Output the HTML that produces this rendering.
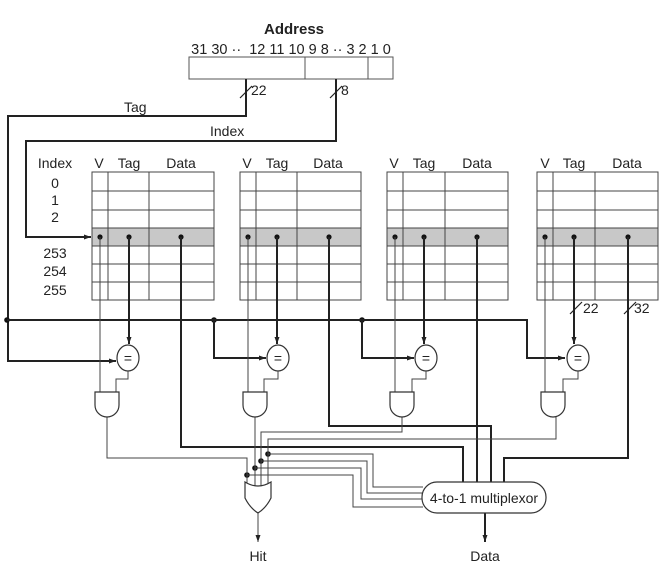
<!DOCTYPE html>
<html><head><meta charset="utf-8"><style>
html,body{margin:0;padding:0;background:#fff}
svg{display:block}
text{font-family:"Liberation Sans",sans-serif;font-size:14px;fill:#222}
</style></head><body>
<svg width="668" height="570" viewBox="0 0 668 570" xmlns="http://www.w3.org/2000/svg">
<defs>
<marker id="ar" markerWidth="8" markerHeight="8" refX="7" refY="4" orient="auto" markerUnits="userSpaceOnUse"><path d="M0,1.5 L7,4 L0,6.5 z" fill="#222"/></marker>
</defs>
<text x="294" y="34" text-anchor="middle" font-weight="bold" style="font-size:15px">Address</text>
<text x="291" y="54" text-anchor="middle" style="font-size:14.5px">31 30 ·· &#160;12 11 10 9 8 ·· 3 2 1 0</text>
<rect x="189" y="57" width="204" height="22" fill="#fff" stroke="#555"/>
<line x1="305" y1="57" x2="305" y2="79" stroke="#555"/>
<line x1="368" y1="57" x2="368" y2="79" stroke="#555"/>
<g stroke="#222" stroke-width="2" fill="none">
<polyline points="246,79 246,116 8,116 8,361 116,361" marker-end="url(#ar)"/>
<polyline points="336,79 336,141 26,141 26,237 91,237" marker-end="url(#ar)"/>
</g>
<g stroke="#222" stroke-width="1.2"><line x1="240" y1="98" x2="252" y2="86"/><line x1="330" y1="98" x2="342" y2="86"/>
<line x1="570" y1="314" x2="582" y2="302"/><line x1="624" y1="314" x2="636" y2="302"/></g>
<text x="251" y="95">22</text><text x="341" y="95">8</text>
<text x="124" y="112">Tag</text><text x="210" y="136">Index</text>
<text x="583" y="313">22</text><text x="634" y="313">32</text>
<text x="55" y="168" text-anchor="middle">Index</text>
<text x="55" y="188" text-anchor="middle">0</text>
<text x="55" y="205" text-anchor="middle">1</text>
<text x="55" y="222" text-anchor="middle">2</text>
<text x="55" y="258" text-anchor="middle">253</text>
<text x="55" y="276" text-anchor="middle">254</text>
<text x="55" y="295" text-anchor="middle">255</text>
<g>
<rect x="92" y="228" width="122" height="18" fill="#c8c8c8"/>
<rect x="240" y="228" width="121" height="18" fill="#c8c8c8"/>
<rect x="387" y="228" width="121" height="18" fill="#c8c8c8"/>
<rect x="537" y="228" width="121" height="18" fill="#c8c8c8"/>
</g>
<g stroke="#444" stroke-width="1" fill="none">
<rect x="92" y="172" width="122" height="128"/><line x1="108" y1="172" x2="108" y2="300"/><line x1="149" y1="172" x2="149" y2="300"/>
<rect x="240" y="172" width="121" height="128"/><line x1="256" y1="172" x2="256" y2="300"/><line x1="297" y1="172" x2="297" y2="300"/>
<rect x="387" y="172" width="121" height="128"/><line x1="403" y1="172" x2="403" y2="300"/><line x1="445" y1="172" x2="445" y2="300"/>
<rect x="537" y="172" width="121" height="128"/><line x1="553" y1="172" x2="553" y2="300"/><line x1="595" y1="172" x2="595" y2="300"/>
<path d="M92,191H214M92,210H214M92,228H214M92,246H214M92,264H214M92,282H214"/>
<path d="M240,191H361M240,210H361M240,228H361M240,246H361M240,264H361M240,282H361"/>
<path d="M387,191H508M387,210H508M387,228H508M387,246H508M387,264H508M387,282H508"/>
<path d="M537,191H658M537,210H658M537,228H658M537,246H658M537,264H658M537,282H658"/>
</g>
<g text-anchor="middle">
<text x="99" y="168">V</text><text x="129" y="168">Tag</text><text x="181" y="168">Data</text>
<text x="247" y="168">V</text><text x="277" y="168">Tag</text><text x="328" y="168">Data</text>
<text x="394" y="168">V</text><text x="424" y="168">Tag</text><text x="477" y="168">Data</text>
<text x="545" y="168">V</text><text x="574" y="168">Tag</text><text x="627" y="168">Data</text>
</g>
<g fill="#111">
<circle cx="100" cy="237" r="2.6"/><circle cx="129" cy="237" r="2.6"/><circle cx="181" cy="237" r="2.6"/>
<circle cx="248" cy="237" r="2.6"/><circle cx="277" cy="237" r="2.6"/><circle cx="329" cy="237" r="2.6"/>
<circle cx="395" cy="237" r="2.6"/><circle cx="424" cy="237" r="2.6"/><circle cx="477" cy="237" r="2.6"/>
<circle cx="545" cy="237" r="2.6"/><circle cx="574" cy="237" r="2.6"/><circle cx="628" cy="237" r="2.6"/>
<circle cx="7" cy="320" r="2.8"/><circle cx="214" cy="320" r="2.8"/><circle cx="362" cy="320" r="2.8"/>
<circle cx="247" cy="475" r="2.8"/><circle cx="255" cy="468" r="2.8"/><circle cx="261" cy="461" r="2.8"/><circle cx="268" cy="454" r="2.8"/>
</g>
<g stroke="#222" stroke-width="2" fill="none">
<polyline points="7,320 527,320 527,358 565,358" marker-end="url(#ar)"/>
<polyline points="214,320 214,358 266,358" marker-end="url(#ar)"/>
<polyline points="362,320 362,358 414,358" marker-end="url(#ar)"/>
<polyline points="129,237 129,344" marker-end="url(#ar)"/>
<polyline points="277,237 277,344" marker-end="url(#ar)"/>
<polyline points="424,237 424,344" marker-end="url(#ar)"/>
<polyline points="574,237 574,344" marker-end="url(#ar)"/>
<polyline points="181,237 181,447 463,447 463,482"/>
<polyline points="329,237 329,426 491,426 491,482"/>
<polyline points="477,237 477,482"/>
<polyline points="628,237 628,458 504,458 504,482"/>
<polyline points="485,513 485,542" marker-end="url(#ar)"/>
</g>
<g stroke="#333" stroke-width="1.2" fill="#fff">
<ellipse cx="128" cy="358" rx="11" ry="13"/><ellipse cx="278" cy="358" rx="11" ry="13"/>
<ellipse cx="426" cy="358" rx="11" ry="13"/><ellipse cx="578" cy="358" rx="11" ry="13"/>
</g>
<g text-anchor="middle"><text x="128" y="363" style="font-size:14px">=</text><text x="278" y="363" style="font-size:14px">=</text><text x="426" y="363" style="font-size:14px">=</text><text x="578" y="363" style="font-size:14px">=</text></g>
<g stroke="#444" stroke-width="1" fill="none">
<polyline points="100,237 100,392"/><polyline points="128,371 128,379 116,379 116,392"/>
<polyline points="248,237 248,392"/><polyline points="278,371 278,379 264,379 264,392"/>
<polyline points="395,237 395,392"/><polyline points="426,371 426,379 412,379 412,392"/>
<polyline points="545,237 545,392"/><polyline points="578,371 578,379 563,379 563,392"/>
<polyline points="107,417 107,458 247,458 247,484"/>
<polyline points="255,417 255,486"/>
<polyline points="402,417 402,432 261,432 261,486"/>
<polyline points="556,417 556,439 268,439 268,484"/>
<polyline points="268,454 373,454 373,487 423,487"/>
<polyline points="261,461 367,461 367,493 423,493"/>
<polyline points="255,468 361,468 361,499 423,499"/>
<polyline points="247,475 353,475 353,507 423,507"/>
<polyline points="258,513 258,542" marker-end="url(#ar)"/>
</g>
<g stroke="#333" stroke-width="1.2" fill="#fff">
<path d="M95,392 H119 V405 A12,12 0 0 1 95,405 Z"/>
<path d="M243,392 H267 V405 A12,12 0 0 1 243,405 Z"/>
<path d="M390,392 H414 V405 A12,12 0 0 1 390,405 Z"/>
<path d="M541,392 H565 V405 A12,12 0 0 1 541,405 Z"/>
<path d="M245,482 Q258,490 271,482 L271,498 Q266,508 258,513 Q250,508 245,498 Z"/>
<rect x="422" y="482" width="124" height="31" rx="15" ry="15"/>
</g>
<text x="484" y="503" text-anchor="middle">4-to-1 multiplexor</text>
<text x="258" y="561" text-anchor="middle">Hit</text>
<text x="485" y="561" text-anchor="middle">Data</text>
</svg>
</body></html>
